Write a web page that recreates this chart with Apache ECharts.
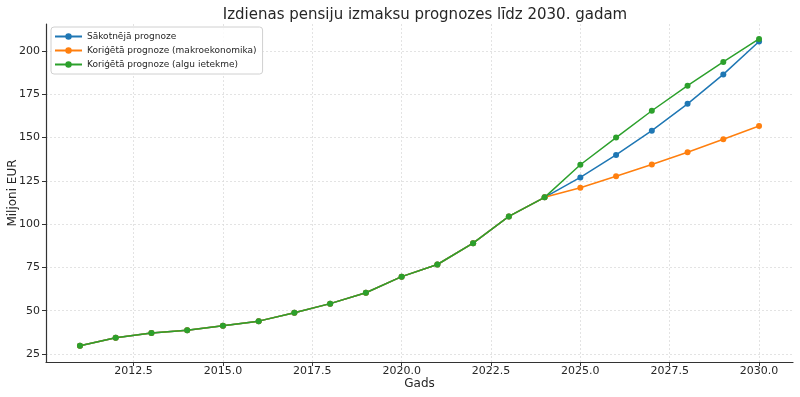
<!DOCTYPE html>
<html>
<head>
<meta charset="utf-8">
<script src="https://cdn.jsdelivr.net/npm/echarts@6/dist/echarts.min.js"></script>
<style>
  html, body { margin: 0; padding: 0; background: #fff; }
  #chart { width: 800px; height: 397px; }
</style>
</head>
<body>
<div id="chart"></div>
<script>
// gadi un vērtības (milj. EUR), nolasītas no attēla
const years = [2011, 2012, 2013, 2014, 2015, 2016, 2017, 2018, 2019, 2020,
               2021, 2022, 2023, 2024, 2025, 2026, 2027, 2028, 2029, 2030];
const history = [29.8, 34.4, 37.1, 38.7, 41.3, 44.0, 48.9, 54.1, 60.4, 69.7,
                 76.7, 89.0, 104.5, 115.5];
const baseForecast = [127.0, 140.0, 154.0, 169.5, 186.5, 205.5];
const macroForecast = [121.0, 127.7, 134.5, 141.5, 149.0, 156.7];
const wageForecast = [134.3, 150.0, 165.5, 180.0, 193.7, 207.0];
const xTicks = [2012.5, 2015, 2017.5, 2020, 2022.5, 2025, 2027.5, 2030];
const yTicks = [25, 50, 75, 100, 125, 150, 175, 200];
const seriesNames = ['Sākotnējā prognoze', 'Koriģētā prognoze (makroekonomika)', 'Koriģētā prognoze (algu ietekme)'];
const colors = ['#1f77b4', '#ff7f0e', '#2ca02c'];

function pairs(proj) {
    const vals = history.concat(proj);
    return years.map((y, i) => [y, vals[i]]);
}

const font = 'DejaVu Sans';
const chart = echarts.init(document.getElementById('chart'));

const gridLine = { show: true, lineStyle: { color: '#dcdcdc', type: [2, 2], width: 0.8 } };

var option = {
    animation: false,
    color: colors,
    textStyle: { fontFamily: font },
    title: {
        text: 'Izdienas pensiju izmaksu prognozes līdz 2030. gadam',
        left: 420,
        textAlign: 'center',
        top: 3,
        textStyle: { fontFamily: font, fontSize: 15, fontWeight: 'normal', color: '#262626' }
    },
    legend: {
        orient: 'vertical',
        left: 51,
        top: 27,
        padding: [5, 6, 5, 3],
        itemGap: 5,
        itemWidth: 27,
        itemHeight: 8,
        borderColor: '#d0d0d0',
        borderWidth: 1,
        borderRadius: 3,
        backgroundColor: 'rgba(255,255,255,0.85)',
        textStyle: { fontFamily: font, fontSize: 9, color: '#262626' },
        data: seriesNames
    },
    grid: { left: 46, right: 7, top: 24, bottom: 35, outerBoundsMode: 'none' },
    xAxis: {
        type: 'value',
        min: 2010.05,
        max: 2030.95,
        name: 'Gads',
        nameLocation: 'middle',
        nameGap: 16,
        nameMoveOverlap: false,
        nameTextStyle: { fontFamily: font, fontSize: 12, color: '#262626' },
        axisLine: { lineStyle: { color: '#333', width: 1.2 } },
        axisTick: { show: true, length: 4, lineStyle: { color: '#333' }, customValues: xTicks },
        axisLabel: {
            fontFamily: font, fontSize: 11, color: '#262626', margin: 4,
            customValues: xTicks,
            formatter: v => v.toFixed(1)
        },
        splitLine: gridLine
    },
    yAxis: {
        type: 'value',
        min: 20.4,
        max: 215.6,
        name: 'Miljoni EUR',
        nameLocation: 'middle',
        nameGap: 27,
        nameMoveOverlap: false,
        nameTextStyle: { fontFamily: font, fontSize: 12, color: '#262626' },
        axisLine: { show: true, lineStyle: { color: '#333', width: 1.2 } },
        axisTick: { show: true, length: 4, lineStyle: { color: '#333' }, customValues: yTicks },
        axisLabel: { fontFamily: font, fontSize: 11, color: '#262626', margin: 6, customValues: yTicks },
        splitLine: gridLine
    },
    series: [baseForecast, macroForecast, wageForecast].map((proj, i) => ({
        name: seriesNames[i],
        type: 'line',
        data: pairs(proj),
        symbol: 'circle',
        symbolSize: 6,
        lineStyle: { width: 1.5 },
        z: 2 + i
    }))
};
chart.setOption(option);
</script>
</body>
</html>
